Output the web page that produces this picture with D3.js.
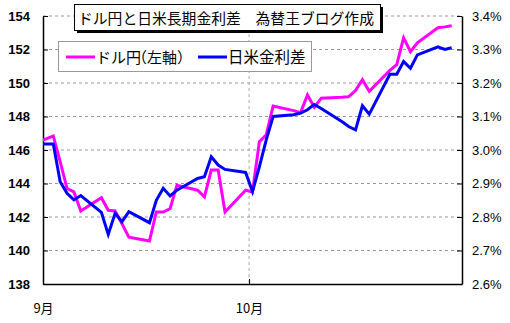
<!DOCTYPE html>
<html>
<head>
<meta charset="utf-8">
<script src="https://cdn.jsdelivr.net/npm/d3@7"></script>
<style>
  body { margin: 0; background: #fff; }
  svg { display: block; }
</style>
</head>
<body>
<div id="chart"></div>
<script>
// data (business days, Sep-Oct)
const dates = [
  "2024-08-30", "2024-09-02", "2024-09-03", "2024-09-04", "2024-09-05", "2024-09-06",
  "2024-09-09", "2024-09-10", "2024-09-11", "2024-09-12", "2024-09-13",
  "2024-09-16", "2024-09-17", "2024-09-18", "2024-09-19", "2024-09-20",
  "2024-09-23", "2024-09-24", "2024-09-25", "2024-09-26", "2024-09-27",
  "2024-09-30", "2024-10-01", "2024-10-02", "2024-10-03", "2024-10-04",
  "2024-10-07", "2024-10-08", "2024-10-09", "2024-10-10", "2024-10-11",
  "2024-10-14", "2024-10-15", "2024-10-16", "2024-10-17", "2024-10-18",
  "2024-10-21", "2024-10-22", "2024-10-23", "2024-10-24", "2024-10-25",
  "2024-10-28", "2024-10-29", "2024-10-30"
];
const usdjpy = [
  146.35, 146.84, 145.3, 143.7, 143.5, 142.36,
  143.15, 142.4, 142.36, 141.6, 140.8,
  140.57, 142.3, 142.3, 142.5, 143.9,
  143.6, 143.2, 144.8, 144.8, 142.3,
  143.6, 143.5, 146.5, 146.9, 148.63,
  148.35, 148.23, 149.28, 148.55, 149.09,
  149.15, 149.18, 149.55, 150.2, 149.5,
  150.75, 151.1, 152.7, 151.87, 152.4,
  153.3, 153.35, 153.42
];
const spread = [
  3.018, 3.018, 2.905, 2.871, 2.851, 2.864,
  2.814, 2.748, 2.811, 2.786, 2.816,
  2.783, 2.85, 2.886, 2.863, 2.88,
  2.915, 2.92, 2.98, 2.955, 2.942,
  2.933, 2.876, 2.95, 3.03, 3.1,
  3.105, 3.11, 3.12, 3.136, 3.124,
  3.085, 3.07, 3.06, 3.132, 3.107,
  3.226, 3.226, 3.264, 3.244, 3.284,
  3.308, 3.30, 3.305
];
const leftTicks = [138, 140, 142, 144, 146, 148, 150, 152, 154];
const rightTicks = [2.6, 2.7, 2.8, 2.9, 3.0, 3.1, 3.2, 3.3, 3.4];
const monthTicks = ["2024-09-01", "2024-10-01", "2024-11-01"];
const monthLabels = ["9月", "10月", ""];
const titleText = "ドル円と日米長期金利差　為替王ブログ作成";
const seriesNames = ["ドル円（左軸）", "日米金利差"];

const W = 510, H = 323;
const margin = {top: 16, right: 48, bottom: 39, left: 43},
      width = W - margin.left - margin.right,
      height = H - margin.top - margin.bottom;

const parse = d3.timeParse("%Y-%m-%d");
const data = dates.map((d, i) => ({date: parse(d), yen: usdjpy[i], rate: spread[i]}));

const svg = d3.select("#chart")
    .append("svg")
    .attr("width", W)
    .attr("height", H);

const g = svg.append("g")
    .attr("transform", `translate(${margin.left},${margin.top})`);

const x = d3.scaleTime()
    .domain([parse(monthTicks[0]), parse(monthTicks[2])])
    .range([0, width]);
// points sit in the middle of their day
const xMid = d => x(d3.timeHour.offset(d, 12));

const yL = d3.scaleLinear().domain([138, 154]).range([height, 0]);
const yR = d3.scaleLinear().domain([2.6, 3.4]).range([height, 0]);

// gridlines
g.append("g")
    .selectAll("line")
    .data(leftTicks.slice(1))
    .enter().append("line")
    .attr("x1", 0).attr("x2", width)
    .attr("y1", d => yL(d)).attr("y2", d => yL(d))
    .attr("stroke", "#999")
    .attr("stroke-dasharray", "3,3");

g.append("line")
    .attr("x1", x(parse(monthTicks[1]))).attr("x2", x(parse(monthTicks[1])))
    .attr("y1", 0).attr("y2", height)
    .attr("stroke", "#aaa")
    .attr("stroke-dasharray", "3,3");

// axes
const leftAxis = g.append("g")
    .call(d3.axisLeft(yL).tickValues(leftTicks).tickSizeInner(-5).tickSizeOuter(0).tickPadding(13));
const rightAxis = g.append("g")
    .attr("transform", `translate(${width},0)`)
    .call(d3.axisRight(yR).tickValues(rightTicks).tickSizeInner(-5).tickSizeOuter(0).tickPadding(13)
        .tickFormat(d => d.toFixed(1) + "%"));
const bottomAxis = g.append("g")
    .attr("transform", `translate(0,${height})`)
    .call(d3.axisBottom(x).tickValues(monthTicks.map(parse)).tickSizeInner(-5).tickSizeOuter(0).tickPadding(20)
        .tickFormat((d, i) => monthLabels[i]));

[leftAxis, rightAxis, bottomAxis].forEach(a => {
  a.select(".domain").attr("stroke", "#000").attr("stroke-width", 1.5);
  a.selectAll(".tick line").attr("stroke", "#000");
});
leftAxis.selectAll("text")
    .attr("font-family", "Liberation Sans, Arial, sans-serif")
    .attr("font-size", 13).attr("font-weight", "bold").attr("fill", "#000");
rightAxis.selectAll("text")
    .attr("font-family", "Liberation Sans Narrow, Liberation Sans, Arial, sans-serif")
    .attr("font-size", 13).attr("fill", "#000").attr("dx", -3);
bottomAxis.selectAll("text")
    .attr("font-family", "Noto Sans CJK JP, sans-serif")
    .attr("font-size", 13).attr("fill", "#000");

// lines
svg.append("clipPath").attr("id", "plot")
  .append("rect").attr("width", width).attr("height", height);

const lineYen = d3.line().x(d => xMid(d.date)).y(d => yL(d.yen));
const lineRate = d3.line().x(d => xMid(d.date)).y(d => yR(d.rate));

const lines = g.append("g").attr("clip-path", "url(#plot)");
lines.append("path")
    .datum(data)
    .attr("fill", "none")
    .attr("stroke", "#ff00ff")
    .attr("stroke-width", 3)
    .attr("d", lineYen);
lines.append("path")
    .datum(data)
    .attr("fill", "none")
    .attr("stroke", "#0000ff")
    .attr("stroke-width", 3)
    .attr("d", lineRate);

// legend
const legend = svg.append("g");
legend.append("rect")
    .attr("x", 58.5).attr("y", 41.5).attr("width", 253).attr("height", 30)
    .attr("fill", "#fff").attr("stroke", "#999");
const legendItems = [
  {name: seriesNames[0], color: "#ff00ff", x: 66, size: 15, dx: "0 0 0 -9"},
  {name: seriesNames[1], color: "#0000ff", x: 198, size: 15.5, dx: "0"}
];
legendItems.forEach(it => {
  legend.append("line")
      .attr("x1", it.x).attr("x2", it.x + 29)
      .attr("y1", 57).attr("y2", 57)
      .attr("stroke", it.color).attr("stroke-width", 3);
  // per-glyph dx tightens the full-width bracket like the original font
  legend.append("text")
      .attr("x", it.x + 30).attr("y", 63)
      .attr("dx", it.dx)
      .attr("font-family", "Noto Sans CJK JP, sans-serif")
      .attr("font-size", it.size)
      .text(it.name);
});

// title box with shadow
svg.append("rect")
    .attr("x", 77).attr("y", 7).attr("width", 306).attr("height", 26)
    .attr("fill", "#000");
svg.append("rect")
    .attr("x", 74.5).attr("y", 4.5).attr("width", 306).attr("height", 26)
    .attr("fill", "#fff").attr("stroke", "#000");
svg.append("text")
    .attr("x", 78).attr("y", 23.5)
    .attr("font-family", "Noto Sans CJK JP, sans-serif")
    .attr("font-size", 14.8)
    .text(titleText);
</script>
</body>
</html>
